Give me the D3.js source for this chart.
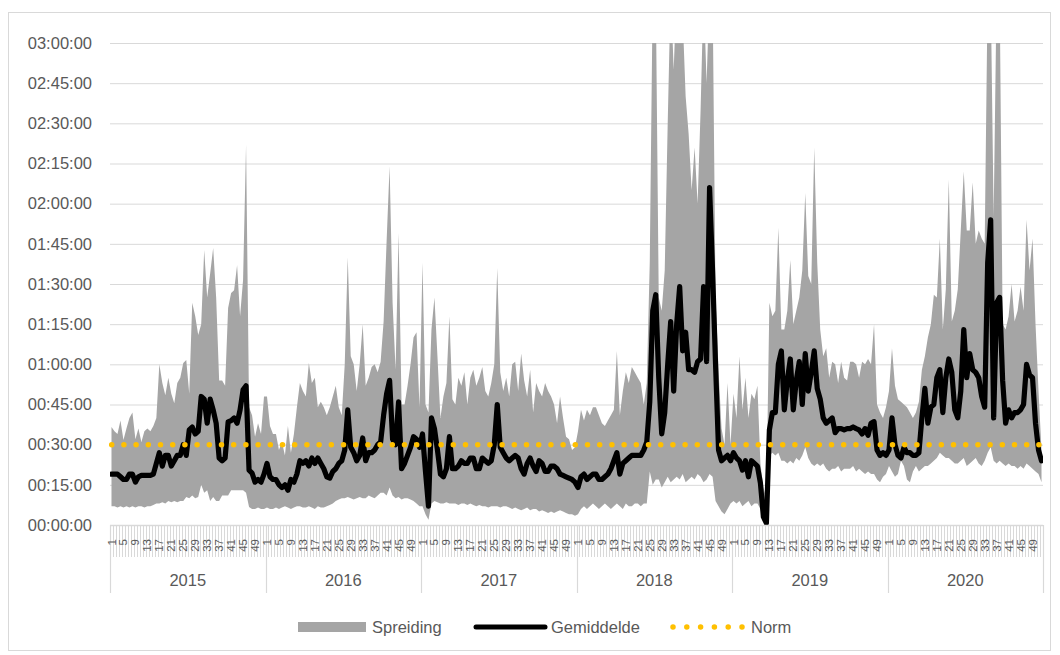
<!DOCTYPE html>
<html><head><meta charset="utf-8">
<script src="https://cdn.jsdelivr.net/npm/d3@7"></script>
<style>
body{margin:0;background:#fff}
svg{display:block}
text{font-family:'Liberation Sans',Arial,sans-serif;fill:#595959}
</style>
</head><body>
<svg id="c" width="1060" height="655"></svg>
<script>
// ---------- data (values in minutes) ----------
const years = [2015, 2016, 2017, 2018, 2019, 2020];
const weeksPerYear = 52;
const weekTickLabels = [1, 5, 9, 13, 17, 21, 25, 29, 33, 37, 41, 45, 49];
const yTickMinutes = [0, 15, 30, 45, 60, 75, 90, 105, 120, 135, 150, 165, 180];
const normValue = 30;
const legendLabels = ["Spreiding", "Gemiddelde", "Norm"];

const gemiddelde = [
  19,19,19,18,17,17,19,19,16,18,18.5,18.5,18.5,18.5,19,23,27,22,26,26,22,24,26,26,30,26,35.5,36.6,34,35,48,47,38,47,43,38,25,24,25,38.5,39,40,38,43,50.5,52,20.5,19.4,16,17,16,19,
  23,18,17,17,15,14,15,13,17,16,19,24,23,24,22,25,23,25,23,21,18,17.5,20,21,23,24,28,43,29,27,24,26,32.5,24,27,27,28,30,31,41,49,54,32,30,46,21,23,26,29,33,32,29,
  34,20,7,40,36,28,19,18,21,33,21,21,22,24,23,23,25,25,21,21,25,24,23,24,30,45,29,27,25,24,25,26,25,21,19,23,25,22,20,24,23,20,20,22,22,21,19,18.5,18,17.5,17,16,
  14,18,19,17,18,19,19,17,17,18,19,21,24,27,19,23,24,25,26,26,26,26,28,31,46,80,86,55,34,42,60,76,50,75,89,65,72,58,58,57,61,62,89,61,126,95,60,28,24,25,26,24,
  27,25,24,20.5,24,18,24,23,22,15.7,3,0.7,35.5,42,42,60,65,43,54,62,43,54,61,45,64,50,57,65,51,47,40,38,39,40,34.5,36,36,35.5,36,36,36.6,36,35.5,34,36,33.5,38,38.6,28,26,27,26,
  28,40,30,26,25,29,27,27,26,26,27,40,51,38,44,45,55,58,42,55,62,57,43,40,50,73,55,64,58,57,55,48,44,98,114,40,83,85,54,38,43,40,42,42,43,45,60,56,55,38,28,24
];

const spreidingMax = [
  36.6,35,34,39,31.7,36,40,42,32,36,31,35,36,35,37,40,60,53,48.5,55,49,45.5,53,55,60.5,61.6,49,83,78,71,75,102.7,85,94,103.4,85,54,54,52,81,86.6,87.7,97,78,91.5,142,44,41,33,38,34,48,
  48,37,34,34,28,31,26,37,27,34,44,53,50,48,60.5,53,55,44,46,44,41,44,48,52,44,41,60,100,63,60,50,60,75,52,55,59,60,57,61,76,106,134,83,58,109,45,45,52,60,70,72,44,
  98,45,42,73,85,63,40,48,53,78,47,45,55,52,57,45,55,58,52,55,59,50,48,53,60,96,57,50,55,48,60,61,50,64,54,48,58,42,53,50,48,53,50,48,45,38,48,40,33,32,28,29,
  35,43,39,43,41,44,44,41,38,37,39,41,43,65,41,50,57,53,59,57,55,53,45,53,98,200,200,85,80,95,150,200,170,200,200,190,160,146,125,141,120,155,200,165,200,200,85,58,36,30,53,30,
  49,40,63,43,55,40,49,47,52,23,14,10,83,78,80,111,73,73,80,99,75,80,85,95,124,93,90,141,98,73,63,66,55,61,60,53,61,55,54,61,61,60,55,61,60,62,60,75,45,42,40,44,
  50,66,52,47,46,45,44,42,40,42,46,58,63,70,75,86,85,107,73,88,129,76,80,88,110,132,110,110,128,105,110,107,105,200,200,115,200,200,75,73,78,90,76,80,89,80,114,95,107,75,50,28
];

const spreidingMin = [
  7,7,6.5,7,6.5,7,6.5,7,6.5,7,7,6.5,7,7,7.5,8,8,8.5,8,9,8.5,9,8.5,9,9,10.5,10,11,10,10.5,15,12,13,9,10.5,9,9,11,11,11,13,13,13,13,13,12,6.7,6,6,6.5,6,6,
  6.5,6,6,6.5,6,6.5,7,6.5,6,6.5,7,7,6.5,6.5,7,6.5,6,7,6.5,6.5,7,7.5,8,9,9.5,10,10,10.5,10,9.5,10,10.5,10,10,11,10.5,10,11,12,12,11,14,11,10,10.5,9.5,10,10,9.5,9,8,7,
  7,4,2,8,9,8.5,8,8,8.5,8,8,8,7.5,8,8,7.5,8,7.5,7,7.5,7,7,6.5,7,7,7,6.5,7,7,6.5,6,6.5,6,5.5,6,6.5,5.5,6,6,5,5.5,5,4.5,5,4.5,5,5.5,5,4.5,4,4,3.5,
  4,6,7,6,7,8,7,6,7,8,7,6,7,8,7,6,8,7,7,8,8,7,8,8,20,15,17,17,14,16,18,16,17,18,17,19,16,17,18,17,19,18,16,17,19,18,9,7,5,4,6,8,
  9,8,9,7,8,9,7,8,8,6,2,0,26,27,26,27,24,24,23,24,23,25,24,26,29,25,23,22,23,22,23,21,20,21,21,22,20,21,21,21,22,20,21,20,19,20,19,19,17,16,18,19,
  22,20,18,19,24,22,17,16,20,22,20,21,22,22,23,24,25,27,26,25,25,24,23,23,24,25,22,23,24,25,23,22,24,27,29,24,23,24,23,22,23,22,22,21,22,21,23,22,21,20,19,16
];

// ---------- layout ----------
const svg = d3.select("#c");
const P = {left:110, right:1043, top:43, bottom:525};
const n = years.length * weeksPerYear;
const idx = d3.range(n);
const x = d3.scaleBand().domain(idx).range([P.left, P.right]).padding(0);
const xb = d3.scaleLinear().domain([0, n]).range([P.left, P.right]);
const y = d3.scaleLinear().domain([0, 180]).range([P.bottom, P.top]);
const cx = i => x(i) + x.bandwidth()/2;
const pad = v => String(v).padStart(2, "0");
const fmt = m => pad(Math.floor(m/60)) + ":" + pad(m % 60) + ":00";

// outer border
svg.append("rect").attr("x", 8.5).attr("y", 12.5).attr("width", 1042).attr("height", 638)
  .attr("fill", "none").attr("stroke", "#d9d9d9").attr("stroke-width", 1);

// gridlines
const grid = svg.append("g").attr("transform", `translate(${P.left},0)`)
  .call(d3.axisLeft(y).tickValues(yTickMinutes).tickSize(-(P.right - P.left)).tickFormat(""));
grid.select(".domain").remove();
grid.selectAll("line").attr("stroke", "#d9d9d9").attr("stroke-width", 1);

// y labels
const ya = svg.append("g").attr("transform", `translate(${P.left},0)`)
  .call(d3.axisLeft(y).tickValues(yTickMinutes).tickSize(0).tickPadding(18).tickFormat(fmt));
ya.select(".domain").remove();
ya.selectAll("text").attr("font-size", "16.5px").attr("fill", "#595959")
  .style("font-family", "'Liberation Sans',Arial,sans-serif");

// clip
svg.append("clipPath").attr("id", "clip").append("rect")
  .attr("x", P.left).attr("y", P.top).attr("width", P.right - P.left).attr("height", P.bottom - P.top);

const plot = svg.append("g").attr("clip-path", "url(#clip)");

// Spreiding area
plot.append("path").datum(idx)
  .attr("fill", "#a5a5a5")
  .attr("d", d3.area().x(i => cx(i)).y0(i => y(spreidingMin[i])).y1(i => y(spreidingMax[i])));

// Norm dotted line
svg.append("line")
  .attr("x1", P.left + 1.7).attr("x2", P.right)
  .attr("y1", y(normValue)).attr("y2", y(normValue))
  .attr("stroke", "#ffc000").attr("stroke-width", 5.5)
  .attr("stroke-linecap", "round").attr("stroke-dasharray", "0 12.2");

// Gemiddelde line
plot.append("path").datum(idx)
  .attr("fill", "none").attr("stroke", "#000").attr("stroke-width", 5.2)
  .attr("stroke-linejoin", "round").attr("stroke-linecap", "round")
  .attr("d", d3.line().x(i => cx(i)).y(i => y(gemiddelde[i])));

// x axis line
svg.append("line").attr("x1", P.left).attr("x2", P.right).attr("y1", P.bottom + 0.5).attr("y2", P.bottom + 0.5)
  .attr("stroke", "#d9d9d9").attr("stroke-width", 1.5);

// week ticks
svg.append("g").selectAll("line").data(d3.range(n + 1)).join("line")
  .attr("x1", i => Math.round(xb(i)) + 0.5).attr("x2", i => Math.round(xb(i)) + 0.5)
  .attr("y1", P.bottom).attr("y2", 557)
  .attr("stroke", "#d9d9d9").attr("stroke-width", 1);

// year boundary ticks
svg.append("g").selectAll("line").data(d3.range(years.length + 1)).join("line")
  .attr("x1", j => Math.round(xb(j * weeksPerYear)) + 0.5).attr("x2", j => Math.round(xb(j * weeksPerYear)) + 0.5)
  .attr("y1", P.bottom).attr("y2", 593)
  .attr("stroke", "#d9d9d9").attr("stroke-width", 1.2);

// week labels
const wl = [];
years.forEach((yr, j) => weekTickLabels.forEach(w => wl.push({i: j * weeksPerYear + (w - 1), w})));
svg.append("g").selectAll("text").data(wl).join("text")
  .attr("transform", d => `translate(${cx(d.i)},539) rotate(-90)`)
  .attr("text-anchor", "end").attr("dy", "0.35em")
  .attr("font-size", "11.5px").text(d => d.w);

// year labels
svg.append("g").selectAll("text").data(years).join("text")
  .attr("x", (d, j) => xb((j + 0.5) * weeksPerYear)).attr("y", 586)
  .attr("text-anchor", "middle").attr("font-size", "16.5px").text(d => d);

// legend
const lg = svg.append("g");
lg.append("rect").attr("x", 298).attr("y", 622).attr("width", 68).attr("height", 10).attr("fill", "#a5a5a5");
lg.append("text").attr("x", 372).attr("y", 633).attr("font-size", "16.5px").text(legendLabels[0]);
lg.append("line").attr("x1", 476).attr("x2", 545).attr("y1", 627).attr("y2", 627)
  .attr("stroke", "#000").attr("stroke-width", 5).attr("stroke-linecap", "round");
lg.append("text").attr("x", 551).attr("y", 633).attr("font-size", "16.5px").text(legendLabels[1]);
lg.append("line").attr("x1", 673).attr("x2", 742.5).attr("y1", 627).attr("y2", 627)
  .attr("stroke", "#ffc000").attr("stroke-width", 5.5).attr("stroke-linecap", "round")
  .attr("stroke-dasharray", "0 13.8");
lg.append("text").attr("x", 751).attr("y", 633).attr("font-size", "16.5px").text(legendLabels[2]);
</script>
</body></html>
